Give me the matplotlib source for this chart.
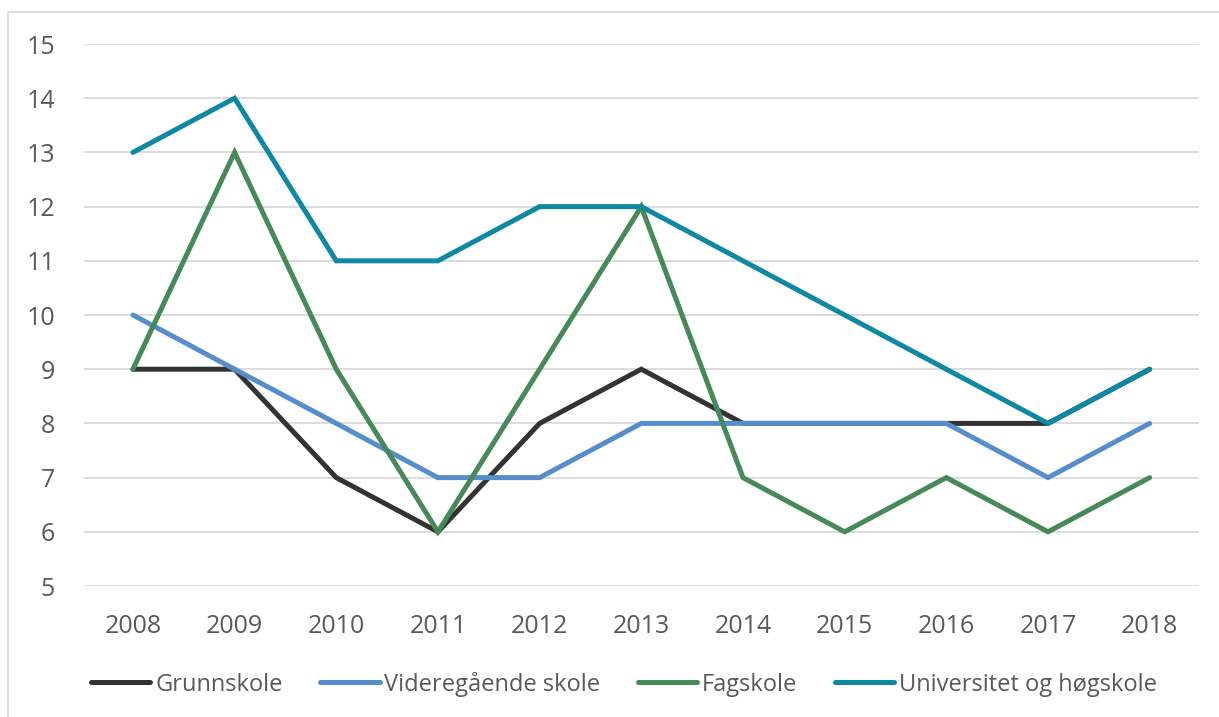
import matplotlib.pyplot as plt
from matplotlib.patches import Rectangle

years = ['2008', '2009', '2010', '2011', '2012', '2013', '2014', '2015', '2016', '2017', '2018']
grunnskole = [9, 9, 7, 6, 8, 9, 8, 8, 8, 8, 9]
videregaende = [10, 9, 8, 7, 7, 8, 8, 8, 8, 7, 8]
fagskole = [9, 13, 9, 6, 9, 12, 7, 6, 7, 6, 7]
universitet = [13, 14, 11, 11, 12, 12, 11, 10, 9, 8, 9]

serier = [
    ('Grunnskole', grunnskole, '#333333'),
    ('Videregående skole', videregaende, '#568ECD'),
    ('Fagskole', fagskole, '#468A59'),
    ('Universitet og høgskole', universitet, '#0E88A3'),
]

plt.rcParams['font.family'] = ['Open Sans', 'DejaVu Sans']

fig = plt.figure(figsize=(12.19, 7.17), dpi=100)
ax = fig.add_axes([0.069, 0.1827, 0.915, 0.7559])

x = range(len(years))
for navn, verdier, farge in serier:
    ax.plot(x, verdier, color=farge, lw=3.6, label=navn,
            solid_capstyle='round', solid_joinstyle='miter')

ax.set_xlim(-0.48, len(years) - 0.51)
ax.set_ylim(5, 15)
ax.set_yticks(range(5, 16))
ax.set_xticks(list(x))
ax.set_xticklabels(years)
ax.grid(axis='y', color='#D9D9D9', lw=1.3)
ax.set_axisbelow(True)
for s in ax.spines.values():
    s.set_visible(False)
ax.tick_params(length=0, labelsize=18, labelcolor='#595959')
ax.tick_params(axis='y', pad=21)
ax.tick_params(axis='x', pad=20)

leg = fig.legend(loc='center', bbox_to_anchor=(0.512, 0.046), ncol=4, frameon=False,
                 fontsize=17, handlelength=2.5, handletextpad=0.2, columnspacing=1.6)
for t in leg.get_texts():
    t.set_color('#595959')

# ramme rundt figuren
fig.patches.append(Rectangle((8 / 1219, -0.1), 1.2, 0.1 + 1 - 12 / 717,
                             transform=fig.transFigure, fill=False,
                             edgecolor='#D9D9D9', lw=1.3))

fig.savefig('out.png', dpi=100)
